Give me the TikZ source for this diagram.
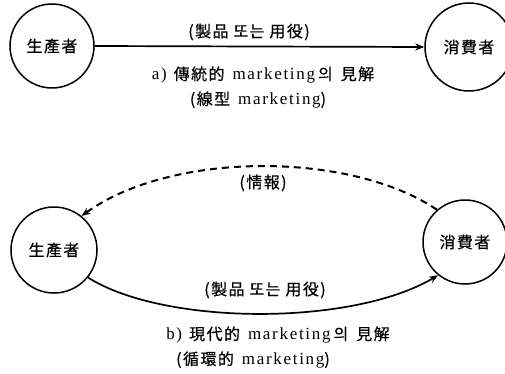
\documentclass[tikz,border=0pt]{standalone}
\usepackage{fontspec}
\setmainfont[LetterSpace=10]{Liberation Serif}
\newfontfamily\cjk[LetterSpace=9,FakeBold=0.5]{Noto Sans CJK KR}
\newcommand{\lat}[1]{{\rmfamily\fontsize{17}{18}\selectfont #1}}
\usetikzlibrary{arrows.meta}
\begin{document}
\begin{tikzpicture}[x=1pt,y=-1pt,
  actor/.style={draw,circle,line width=1.5pt,inner sep=0pt,font=\cjk\fontsize{16}{18}\selectfont},
  lbl/.style={inner sep=0pt,font=\cjk\fontsize{16}{18}\selectfont},
  flow/.style={line width=1.7pt,-{Stealth[length=9pt,width=7pt]}},
  info/.style={line width=2pt,dash pattern=on 7pt off 5pt,-{Stealth[length=9pt,width=7pt]}}]
\useasboundingbox (0,0) rectangle (505,374);
% a) linear
\node[actor,minimum size=84pt] (p1) at (52,46) {生產者};
\node[actor,minimum size=88pt] (c1) at (469,47) {消費者};
\draw[flow] (p1.east) -- (c1.west);
\node[lbl] (l1) at (249,32) {(製品\hspace{5pt}또는\hspace{5pt}用役)};
\node[lbl] (t1) at (263,75) {\lat{a)}\hspace{7pt}傳統的\hspace{8pt}\lat{marketing}\hspace{3pt}의\hspace{8pt}見解};
\node[lbl] (s1) at (258,100) {(線型\hspace{8pt}\lat{marketing})};
% b) circular
\node[actor,minimum size=86pt] (p2) at (54,250) {生產者};
\node[actor,minimum size=84pt] (c2) at (465,242) {消費者};
\draw[info] (c2.131) .. controls (350,151) and (171,151) .. (p2.51);
\draw[flow] (p2.-39) .. controls (165,326) and (353,326) .. (c2.231);
\node[lbl] (l2) at (263,183) {(情報)};
\node[lbl] (l3) at (265,290) {(製品\hspace{5pt}또는\hspace{5pt}用役)};
\node[lbl] (t2) at (278,335) {\lat{b)}\hspace{7pt}現代的\hspace{8pt}\lat{marketing}\hspace{3pt}의\hspace{8pt}見解};
\node[lbl] (s2) at (253,360) {(循環的\hspace{8pt}\lat{marketing})};
\end{tikzpicture}
\end{document}
